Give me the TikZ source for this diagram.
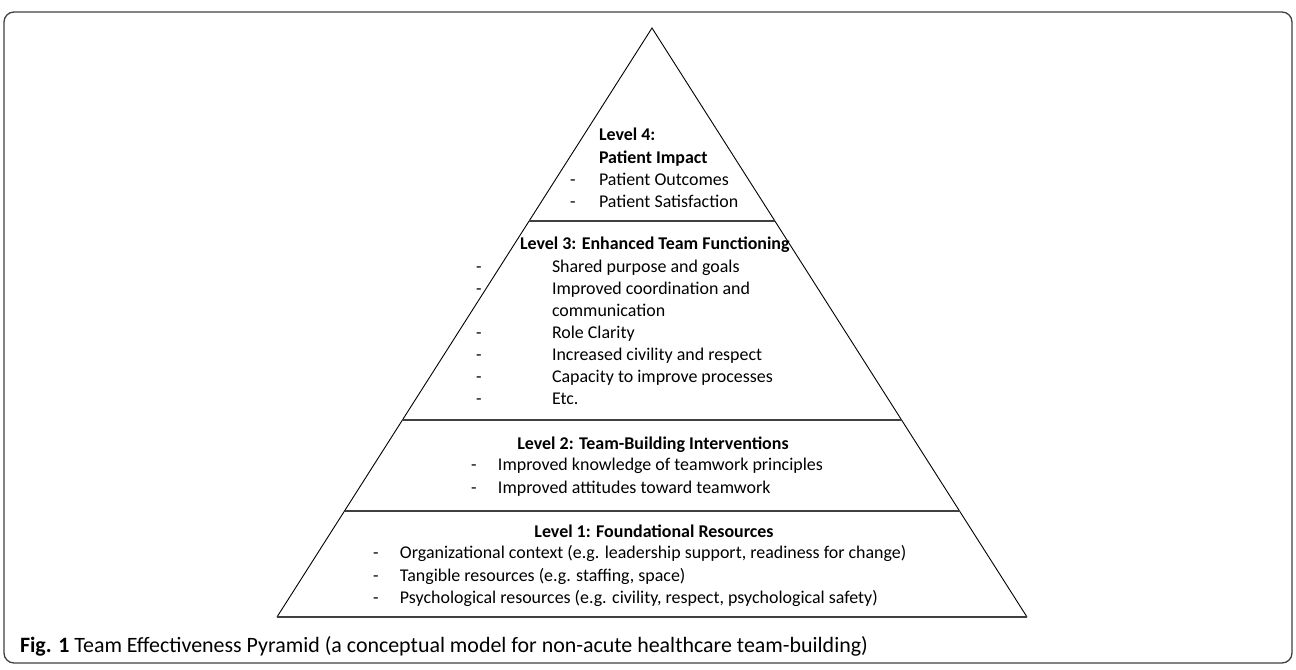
\documentclass[tikz,border=0pt]{standalone}
\usepackage{fontspec}
\setmainfont{Carlito}
\usetikzlibrary{calc}
\begin{document}
\begin{tikzpicture}[x=1bp,y=-1bp,
  frame/.style={draw=black!75,line width=1.3bp,rounded corners=10bp},
  edge/.style={draw=black,line width=0.9bp},
  divider/.style={draw=black!75,line width=1.8bp},
  txt/.style={inner sep=0pt,outer sep=0pt,font=\fontsize{18}{22.2}\selectfont,align=left},
  captxt/.style={inner sep=0pt,outer sep=0pt,font=\fontsize{22}{24}\selectfont}]
\useasboundingbox (0,0) rectangle (1296,670);
\draw[frame] (4,12) rectangle (1292,663);
% pyramid geometry
\coordinate (apex) at (652,28);
\coordinate (bl) at (277,617);
\coordinate (br) at (1027,617);
\coordinate (l1) at ($(apex)!0.3277!(bl)$);
\coordinate (r1) at ($(apex)!0.3277!(br)$);
\coordinate (l2) at ($(apex)!0.6655!(bl)$);
\coordinate (r2) at ($(apex)!0.6655!(br)$);
\coordinate (l3) at ($(apex)!0.8200!(bl)$);
\coordinate (r3) at ($(apex)!0.8200!(br)$);
\draw[edge] (bl) -- (apex) -- (br);
\draw[divider] (l1) -- (r1);
\draw[divider] (l2) -- (r2);
\draw[divider] (l3) -- (r3);
\draw[divider] (bl) -- (br);
% Level 4
\node[txt,anchor=north west] (lv4) at (570,125.5) {%
\begin{tabular}{@{}p{29bp}@{}l@{}}
 & \textbf{Level 4:}\\
 & \textbf{Patient Impact}\\
- & Patient Outcomes\\
- & Patient Satisfaction
\end{tabular}};
% Level 3
\node[txt,anchor=north west] (lv3) at (476,234.5) {%
\begin{tabular}{@{}p{76bp}@{}l@{}}
\multicolumn{2}{@{\hspace{44bp}}l@{}}{\textbf{Level 3: Enhanced Team Functioning}}\\
- & Shared purpose and goals\\
- & Improved coordination and\\
 & communication\\
- & Role Clarity\\
- & Increased civility and respect\\
- & Capacity to improve processes\\
- & Etc.
\end{tabular}};
% Level 2
\node[txt,anchor=base] (lv2t) at (653,449) {\textbf{Level 2: Team-Building Interventions}};
\node[txt,anchor=north west] (lv2) at (471,455.5) {%
\begin{tabular}{@{}p{27bp}@{}l@{}}
- & Improved knowledge of teamwork principles\\
- & Improved attitudes toward teamwork
\end{tabular}};
% Level 1
\node[txt,anchor=base] (lv1t) at (654,537) {\textbf{Level 1: Foundational Resources}};
\node[txt,anchor=north west] (lv1) at (373,543.5) {%
\begin{tabular}{@{}p{27bp}@{}l@{}}
- & Organizational context (e.g. leadership support, readiness for change)\\
- & Tangible resources (e.g. staffing, space)\\
- & Psychological resources (e.g. civility, respect, psychological safety)
\end{tabular}};
% caption
\node[captxt,anchor=base west] (caption) at (20,652) {\textbf{Fig. 1} Team Effectiveness Pyramid (a conceptual model for non-acute healthcare team-building)};
\end{tikzpicture}
\end{document}
